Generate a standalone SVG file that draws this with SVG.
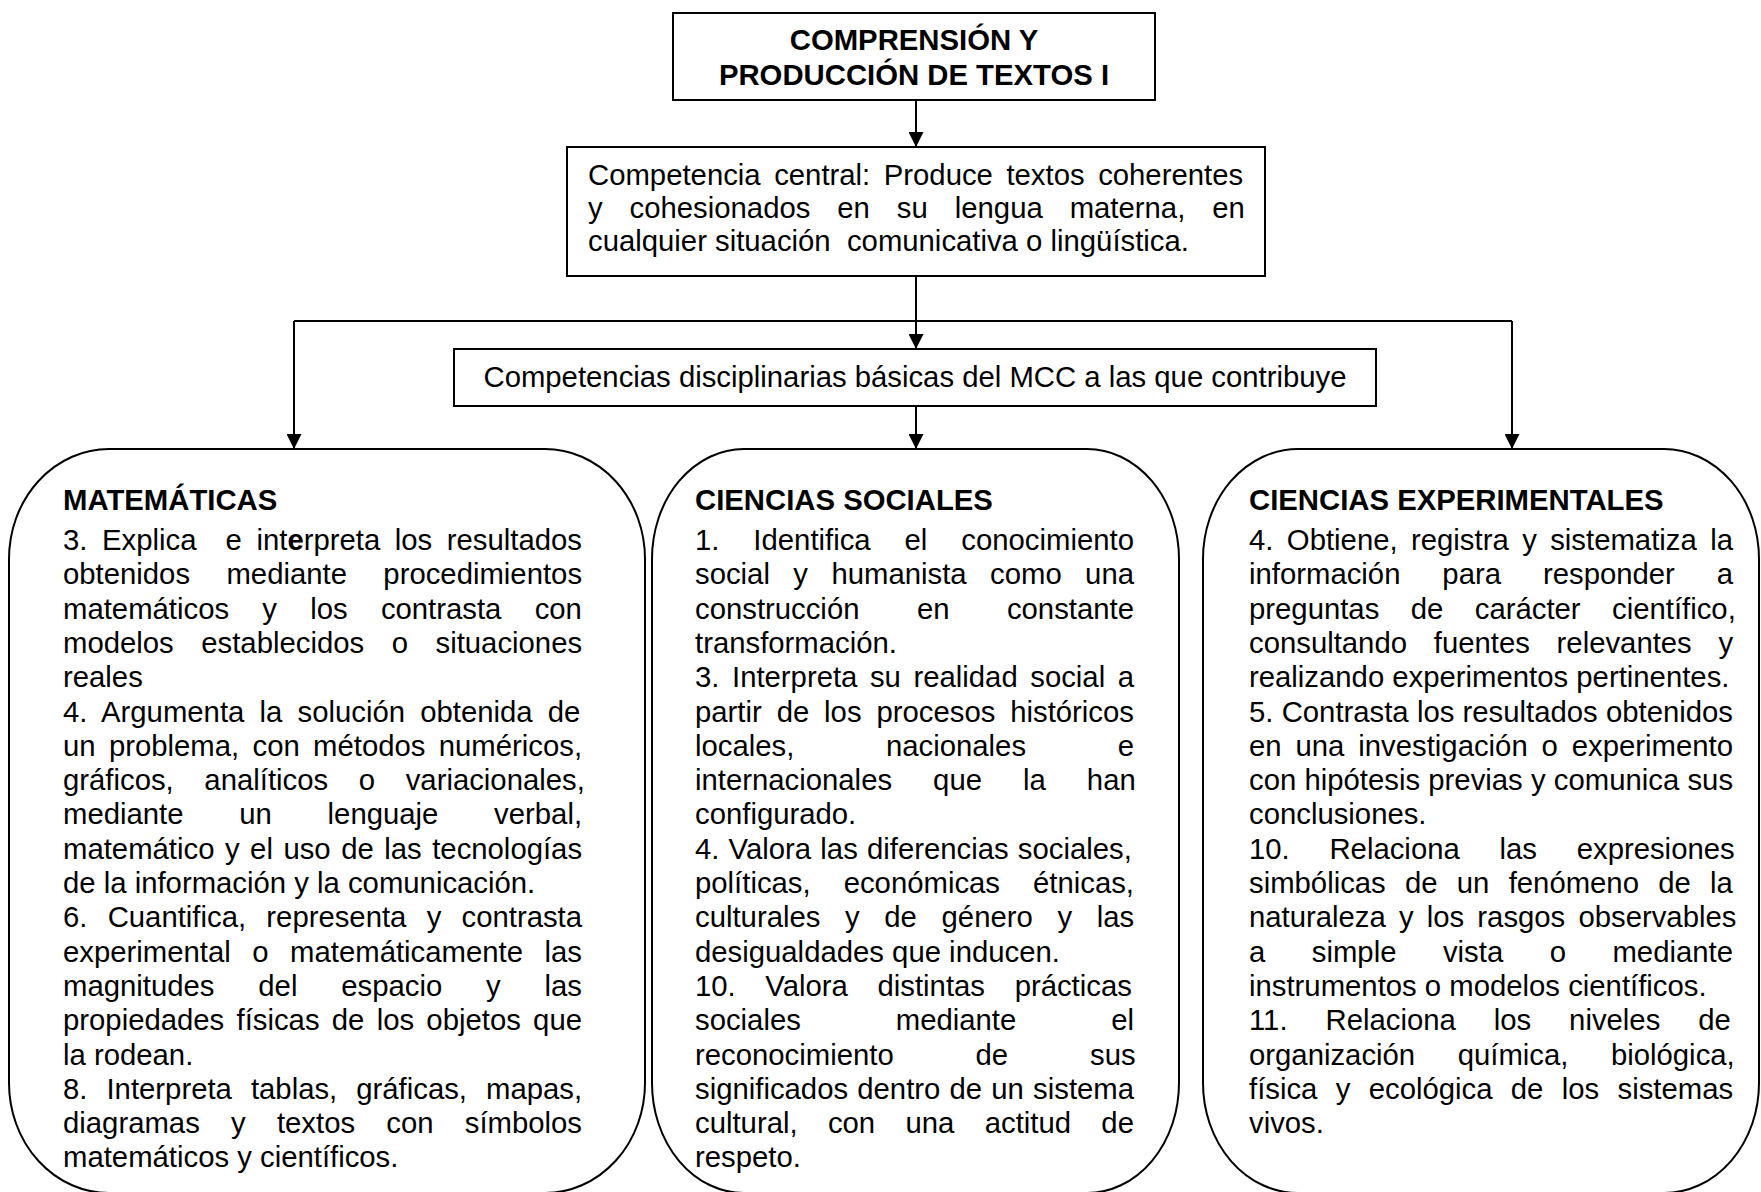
<svg xmlns="http://www.w3.org/2000/svg" width="1761" height="1192" viewBox="0 0 1761 1192">
<style>
  text { font-family: "Liberation Sans", Arial, sans-serif; font-size: 29.3px; fill: #000; }
  .b { font-weight: bold; }
  .mid { text-anchor: middle; }
  .box { fill: #fff; stroke: #000; stroke-width: 2; }
  .conn { fill: none; stroke: #000; stroke-width: 2; }
</style>
<defs>
  <marker id="arrow" markerUnits="userSpaceOnUse" viewBox="0 0 15 15" markerWidth="15" markerHeight="15" refX="15" refY="7.5" orient="auto">
    <path d="M0,0 L15,7.5 L0,15 Z" fill="#000"/>
  </marker>
</defs>

<g id="connectors">
  <path class="conn" d="M916,100 L916,147" marker-end="url(#arrow)"/>
  <path class="conn" d="M916,276 L916,349" marker-end="url(#arrow)"/>
  <path class="conn" d="M294,321 L1512,321"/>
  <path class="conn" d="M294,321 L294,449" marker-end="url(#arrow)"/>
  <path class="conn" d="M1512,321 L1512,449" marker-end="url(#arrow)"/>
  <path class="conn" d="M916,406 L916,449" marker-end="url(#arrow)"/>
</g>

<g id="node-title">
  <rect class="box" x="673" y="13" width="482" height="87"/>
  <text class="b mid" x="914" y="50">COMPRENSIÓN Y</text>
  <text class="b mid" x="914" y="85">PRODUCCIÓN DE TEXTOS I</text>
</g>

<g id="node-competencia-central">
  <rect class="box" x="567" y="147" width="698" height="129"/>
  <text x="588" y="185" word-spacing="5.4">Competencia central: Produce textos coherentes</text>
  <text x="588" y="218" word-spacing="18.8">y cohesionados en su lengua materna, en</text>
  <text x="588" y="251" xml:space="preserve">cualquier situación  comunicativa o lingüística.</text>
</g>

<g id="node-mcc">
  <rect class="box" x="454" y="349" width="922" height="57"/>
  <text class="mid" x="915" y="387">Competencias disciplinarias básicas del MCC a las que contribuye</text>
</g>

<g id="node-matematicas">
  <rect class="box" x="9" y="449" width="636" height="744" rx="100" ry="110"/>
  <text class="b" x="63" y="510">MATEMÁTICAS</text>
  <text x="63" y="550" word-spacing="6.43" xml:space="preserve">3. Explica  e int<tspan class="b">e</tspan>rpreta los resultados</text>
  <text x="63" y="584.3" word-spacing="28.25">obtenidos mediante procedimientos</text>
  <text x="63" y="618.6" word-spacing="25.1">matemáticos y los contrasta con</text>
  <text x="63" y="652.9" word-spacing="19.4">modelos establecidos o situaciones</text>
  <text x="63" y="687.2">reales</text>
  <text x="63" y="721.5" word-spacing="7.06">4. Argumenta la solución obtenida de</text>
  <text x="63" y="755.8" word-spacing="5.18">un problema, con métodos numéricos,</text>
  <text x="63" y="790.1" word-spacing="22.5">gráficos, analíticos o variacionales,</text>
  <text x="63" y="824.4" word-spacing="47.6">mediante un lenguaje verbal,</text>
  <text x="63" y="858.7" word-spacing="2.37">matemático y el uso de las tecnologías</text>
  <text x="63" y="893">de la información y la comunicación.</text>
  <text x="63" y="927.3" word-spacing="12.1">6. Cuantifica, representa y contrasta</text>
  <text x="63" y="961.6" word-spacing="13.4">experimental o matemáticamente las</text>
  <text x="63" y="995.9" word-spacing="35.7">magnitudes del espacio y las</text>
  <text x="63" y="1030.2" word-spacing="4.12">propiedades físicas de los objetos que</text>
  <text x="63" y="1064.5">la rodean.</text>
  <text x="63" y="1098.8" word-spacing="10.9">8. Interpreta tablas, gráficas, mapas,</text>
  <text x="63" y="1133.1" word-spacing="23.1">diagramas y textos con símbolos</text>
  <text x="63" y="1167.4">matemáticos y científicos.</text>
</g>

<g id="node-ciencias-sociales">
  <rect class="box" x="652" y="449" width="527" height="744" rx="92" ry="110"/>
  <text class="b" x="695" y="510">CIENCIAS SOCIALES</text>
  <text x="695" y="550" word-spacing="25.8">1. Identifica el conocimiento</text>
  <text x="695" y="584.3" word-spacing="15.3">social y humanista como una</text>
  <text x="695" y="618.6" word-spacing="49.3">construcción en constante</text>
  <text x="695" y="652.9">transformación.</text>
  <text x="695" y="687.2" word-spacing="4.42">3. Interpreta su realidad social a</text>
  <text x="695" y="721.5" word-spacing="6.75">partir de los procesos históricos</text>
  <text x="695" y="755.8" word-spacing="83.5">locales, nacionales e</text>
  <text x="695" y="790.1" word-spacing="32.9">internacionales que la han</text>
  <text x="695" y="824.4">configurado.</text>
  <text x="695" y="858.7" word-spacing="1.05">4. Valora las diferencias sociales,</text>
  <text x="695" y="893" word-spacing="24.9">políticas, económicas étnicas,</text>
  <text x="695" y="927.3" word-spacing="16.5">culturales y de género y las</text>
  <text x="695" y="961.6">desigualdades que inducen.</text>
  <text x="695" y="995.9" word-spacing="21.5">10. Valora distintas prácticas</text>
  <text x="695" y="1030.2" word-spacing="86.8">sociales mediante el</text>
  <text x="695" y="1064.5" word-spacing="73.75">reconocimiento de sus</text>
  <text x="695" y="1098.8" word-spacing="1.05">significados dentro de un sistema</text>
  <text x="695" y="1133.1" word-spacing="22.2">cultural, con una actitud de</text>
  <text x="695" y="1167.4">respeto.</text>
</g>

<g id="node-ciencias-experimentales">
  <rect class="box" x="1203" y="449" width="556" height="744" rx="95" ry="110"/>
  <text class="b" x="1249" y="510">CIENCIAS EXPERIMENTALES</text>
  <text x="1249" y="550" word-spacing="5.28">4. Obtiene, registra y sistematiza la</text>
  <text x="1249" y="584.3" word-spacing="33.8">información para responder a</text>
  <text x="1249" y="618.6" word-spacing="23.3">preguntas de carácter científico,</text>
  <text x="1249" y="652.9" word-spacing="18.6">consultando fuentes relevantes y</text>
  <text x="1249" y="687.2">realizando experimentos pertinentes.</text>
  <text x="1249" y="721.5" word-spacing="0.08">5. Contrasta los resultados obtenidos</text>
  <text x="1249" y="755.8" word-spacing="5.78">en una investigación o experimento</text>
  <text x="1249" y="790.1" word-spacing="0.08">con hipótesis previas y comunica sus</text>
  <text x="1249" y="824.4">conclusiones.</text>
  <text x="1249" y="858.7" word-spacing="31.6">10. Relaciona las expresiones</text>
  <text x="1249" y="893" word-spacing="11.1">simbólicas de un fenómeno de la</text>
  <text x="1249" y="927.3" word-spacing="5.0">naturaleza y los rasgos observables</text>
  <text x="1249" y="961.6" word-spacing="38.35">a simple vista o mediante</text>
  <text x="1249" y="995.9">instrumentos o modelos científicos.</text>
  <text x="1249" y="1030.2" word-spacing="29.8">11. Relaciona los niveles de</text>
  <text x="1249" y="1064.5" word-spacing="34.4">organización química, biológica,</text>
  <text x="1249" y="1098.8" word-spacing="10.2">física y ecológica de los sistemas</text>
  <text x="1249" y="1133.1">vivos.</text>
</g>
</svg>
